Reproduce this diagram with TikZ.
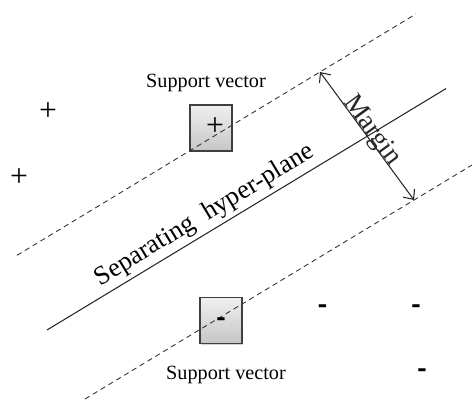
\documentclass[tikz,border=0pt]{standalone}
\usepackage{fontspec}
\setmainfont{Liberation Serif}
\usepackage{tikz}
\usetikzlibrary{calc, positioning}
\usetikzlibrary{arrows.meta}
\usetikzlibrary{shadows}

\begin{document}
\begin{tikzpicture}[x=0.02cm,y=0.02cm,>={Straight Barb[length=4.5pt,width=8pt]},
    svbox/.style={rectangle,draw=black!75,line width=0.8pt,minimum width=0.84cm,minimum height=0.92cm,
        top color=gray!12,bottom color=gray!45,drop shadow={shadow xshift=0.8pt,shadow yshift=-0.8pt,opacity=0.35}},
    margline/.style={dashed,dash pattern=on 3pt off 2.2pt,line width=0.5pt,black!80},
    plusmark/.style={inner sep=0pt,font=\fontsize{18}{18}\selectfont},
    minusmark/.style={inner sep=0pt,xscale=0.8,font=\fontsize{20}{20}\selectfont\bfseries},
    svlabel/.style={font=\fontsize{11.5}{13}\selectfont},
    biglabel/.style={font=\fontsize{15.5}{17}\selectfont}]
            \useasboundingbox (0,0) rectangle (472,399);
            % support vector boxes
            \node[svbox] (svtop) at (211,271) {};
            \node[svbox] (svbot) at (221,78.5) {};
            % hyper-plane and margins
            \coordinate (up1) at (17,143.7);
            \coordinate (up2) at (416,385.1);
            \coordinate (mid1) at (47,69);
            \coordinate (mid2) at (446,310.4);
            \coordinate (lo1) at (85,0);
            \coordinate (lo2) at (472,234);
            \draw[margline] (up1) -- (up2);
            \draw[margline] (lo1) -- (lo2);
            \draw[line width=0.6pt,black!85] (mid1) -- (mid2);
            \node[biglabel,rotate=31.2,anchor=base,font=\fontsize{15}{17}\selectfont] (sep) at (208,178) {Separating\ \ hyper-plane};
            % margin arrow
            \coordinate (mtop) at (320,327);
            \coordinate (mbot) at (414,199);
            \draw[<->,line width=0.6pt,black!85] (mtop) -- node[biglabel,sloped,anchor=base,pos=0.49,yshift=0.5pt,inner sep=0pt] (margin) {Margin} (mbot);
            % points
            \node[plusmark] (p1) at (48,287) {+};
            \node[plusmark] (p2) at (19,221) {+};
            \node[plusmark] (p3) at (215,272) {+};
            \node[minusmark] (n1) at (322.5,89.5) {-};
            \node[minusmark] (n2) at (416,89.5) {-};
            \node[minusmark] (n3) at (422,25) {-};
            \node[minusmark] (n4) at (221,76) {-};
            \node[svlabel] (svt) at (206,316) {Support vector};
            \node[svlabel] (svb) at (226,24) {Support vector};
        \end{tikzpicture}
\end{document}
